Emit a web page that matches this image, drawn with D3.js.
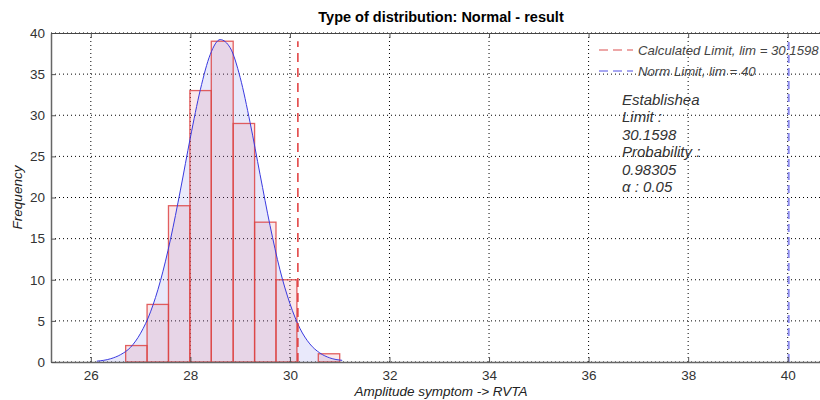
<!DOCTYPE html>
<html>
<head>
<meta charset="utf-8">
<script src="https://cdn.jsdelivr.net/npm/d3@7"></script>
<style>
  body { margin: 0; background: #fff; }
  svg { display: block; font-family: "Liberation Sans", Arial, sans-serif; }
  .tick text { fill: #333; font-size: 13.5px; }
</style>
</head>
<body>
<svg id="chart" width="820" height="400"></svg>
<script>
// histogram bins (edges) and counts
const binEdges = [26.70, 27.13, 27.56, 27.99, 28.42, 28.86, 29.29, 29.72, 30.14, 30.57, 31.00];
const counts = [2, 7, 19, 33, 39, 29, 17, 10, 0, 1];

// fitted normal curve
const fitX = [26.12, 26.4, 26.6, 26.8, 27.0, 27.2, 27.4, 27.6, 27.8, 28.0, 28.2, 28.4, 28.6,
              28.8, 29.0, 29.2, 29.4, 29.6, 29.8, 30.0, 30.2, 30.4, 30.6, 30.8, 31.05];
const fitY = [0.1, 0.4, 0.9, 1.8, 3.5, 6.1, 9.9, 14.9, 20.9, 27.3, 33.1, 37.4, 39.2,
              38.2, 34.6, 29.1, 22.8, 16.6, 11.2, 7.1, 4.1, 2.2, 1.1, 0.5, 0.2];

// limits
const calcLimit = 30.1598;
const normLimit = 40;
const limitTop = 39;

const xTicks = [26, 28, 30, 32, 34, 36, 38, 40];
const yTicks = [0, 5, 10, 15, 20, 25, 30, 35, 40];

const legendLabels = ['Calculated Limit, lim = 30.1598', 'Norm Limit, lim = 40'];
const noteLines = ['Establishea', 'Limit :', '30.1598', 'Probability :', '0.98305', 'α : 0.05'];

const pLeft = 51, pRight = 831, pTop = 33, pBottom = 362;

const svg = d3.select('#chart');

const x = d3.scaleLinear().domain([25.2, 40.87]).range([pLeft, pRight]);
const y = d3.scaleLinear().domain([0, 40]).range([pBottom, pTop]);

// grid
svg.append('g')
    .selectAll('line')
    .data(xTicks)
    .join('line')
    .attr('x1', d => x(d)).attr('x2', d => x(d))
    .attr('y1', pTop).attr('y2', pBottom)
    .attr('stroke', '#000').attr('stroke-dasharray', '1,3');

svg.append('g')
    .selectAll('line')
    .data(yTicks)
    .join('line')
    .attr('x1', pLeft).attr('x2', pRight)
    .attr('y1', d => y(d)).attr('y2', d => y(d))
    .attr('stroke', '#000').attr('stroke-dasharray', '1,3');

const fit = fitX.map((d, i) => [d, fitY[i]]);

// area under the fitted curve
svg.append('path')
    .datum(fit)
    .attr('d', d3.area().x(d => x(d[0])).y0(y(0)).y1(d => y(d[1])).curve(d3.curveMonotoneX))
    .attr('fill', 'rgb(110,110,230)')
    .attr('fill-opacity', 0.15);

// bars
const bins = counts.map((c, i) => ({ x0: binEdges[i], x1: binEdges[i + 1], n: c }));
svg.append('g')
    .selectAll('rect')
    .data(bins.filter(d => d.n > 0))
    .join('rect')
    .attr('x', d => x(d.x0))
    .attr('width', d => x(d.x1) - x(d.x0))
    .attr('y', d => y(d.n))
    .attr('height', d => y(0) - y(d.n))
    .attr('fill', 'rgb(220,100,120)')
    .attr('fill-opacity', 0.15)
    .attr('stroke', '#dd4444')
    .attr('stroke-opacity', 0.85)
    .attr('stroke-width', 1.3);

// fitted curve line
svg.append('path')
    .datum(fit)
    .attr('d', d3.line().x(d => x(d[0])).y(d => y(d[1])).curve(d3.curveMonotoneX))
    .attr('fill', 'none')
    .attr('stroke', '#3a3ae0')
    .attr('stroke-width', 1);

// limit lines
svg.append('line')
    .attr('x1', x(calcLimit)).attr('x2', x(calcLimit))
    .attr('y1', y(0)).attr('y2', y(limitTop))
    .attr('stroke', '#e03a3a').attr('stroke-width', 1.5)
    .attr('stroke-dasharray', '9,6');

svg.append('line')
    .attr('x1', x(normLimit) + 1).attr('x2', x(normLimit) + 1)
    .attr('y1', y(0)).attr('y2', y(limitTop))
    .attr('stroke', '#8a8aee').attr('stroke-width', 2)
    .attr('stroke-dasharray', '8,5');

// axes (ticks pointing inward)
svg.append('g')
    .attr('transform', `translate(0,${pBottom})`)
    .call(d3.axisBottom(x).tickValues(xTicks).tickSizeInner(-5).tickSizeOuter(0).tickPadding(8))
    .call(g => g.select('.domain').attr('stroke', '#666').attr('stroke-width', 1.5))
    .call(g => g.selectAll('.tick line').attr('stroke', '#555'));

svg.append('g')
    .attr('transform', `translate(${pLeft},0)`)
    .call(d3.axisLeft(y).tickValues(yTicks).tickSizeInner(-5).tickSizeOuter(0).tickPadding(6))
    .call(g => g.select('.domain').attr('stroke', '#666').attr('stroke-width', 1.5))
    .call(g => g.selectAll('.tick line').attr('stroke', '#555'));

svg.append('g')
    .attr('transform', `translate(0,${pTop})`)
    .call(d3.axisTop(x).tickValues(xTicks).tickSizeInner(-5).tickSizeOuter(0).tickFormat(''))
    .call(g => g.select('.domain').attr('stroke', '#444'))
    .call(g => g.selectAll('.tick line').attr('stroke', '#555'));

// title and axis labels
svg.append('text')
    .attr('x', (pLeft + pRight) / 2).attr('y', 22)
    .attr('text-anchor', 'middle')
    .attr('font-size', 14.5).attr('font-weight', 'bold')
    .text('Type of distribution: Normal - result');

svg.append('text')
    .attr('x', (pLeft + pRight) / 2).attr('y', 396)
    .attr('text-anchor', 'middle')
    .attr('font-size', 13.5).attr('font-style', 'italic').attr('fill', '#222')
    .text('Amplitude symptom -> RVTA');

svg.append('text')
    .attr('transform', `translate(22,${(pTop + pBottom) / 2}) rotate(-90)`)
    .attr('text-anchor', 'middle')
    .attr('font-size', 13.5).attr('font-style', 'italic').attr('fill', '#222')
    .text('Frequency');

// legend
const legend = svg.append('g')
    .selectAll('g')
    .data(legendLabels)
    .join('g')
    .attr('transform', (d, i) => `translate(599,${50 + i * 21})`);

legend.append('line')
    .attr('x1', 0).attr('x2', 34)
    .attr('stroke', (d, i) => i === 0 ? '#e88a8a' : '#8a8aee')
    .attr('stroke-width', 1.5)
    .attr('stroke-dasharray', '9,5');

legend.append('text')
    .attr('x', 39).attr('y', 5)
    .attr('font-size', 13.2).attr('font-style', 'italic').attr('fill', '#444')
    .text(d => d);

// annotation
svg.append('g')
    .selectAll('text')
    .data(noteLines)
    .join('text')
    .attr('x', 622)
    .attr('y', (d, i) => 105 + i * 17.4)
    .attr('font-size', 15).attr('font-style', 'italic').attr('fill', '#333')
    .text(d => d);
</script>
</body>
</html>
